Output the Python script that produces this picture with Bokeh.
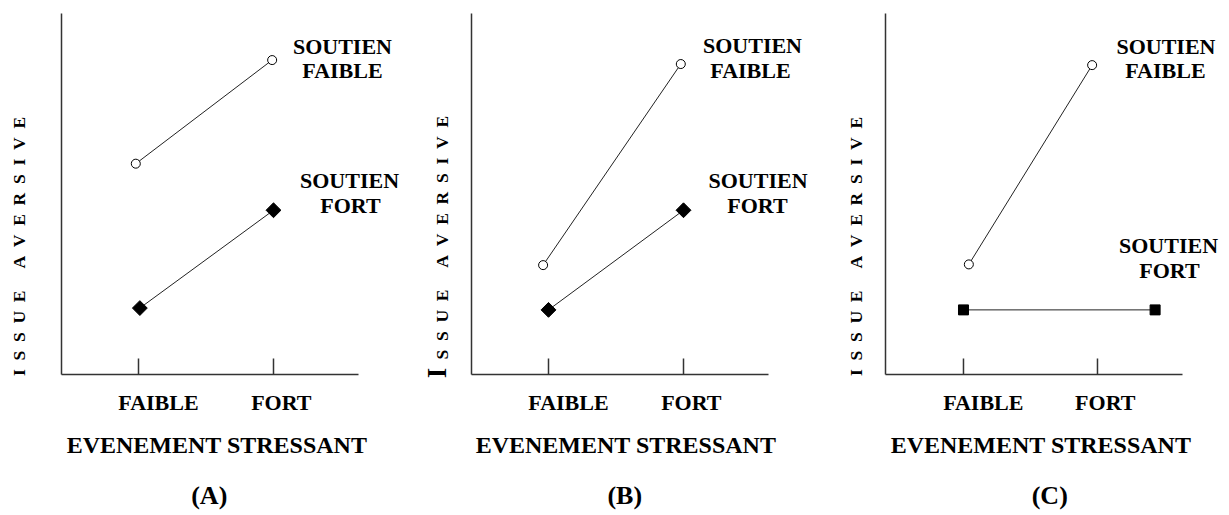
import numpy as np
from bokeh.plotting import figure
from bokeh.layouts import row
from bokeh.models import FixedTicker, Label, Range1d, LinearAxis
from bokeh.embed import file_html
from bokeh.resources import INLINE

FONT = "Liberation Serif"

# ---------------- data ----------------
x_categories = ["FAIBLE", "FORT"]
x_positions = [1, 2]
x_label_shift = [0.148, 0.058]
panel_names = ["(A)", "(B)", "(C)"]
x_title = "EVENEMENT STRESSANT"
series_labels = [["SOUTIEN", "FAIBLE"], ["SOUTIEN", "FORT"]]

# (A)
a_faible_x = [0.98, 1.99]
a_faible_y = [58.4, 87.1]
a_fort_x = [1.01, 2.0]
a_fort_y = [18.4, 45.5]
# (B)
b_faible_x = [0.96, 1.98]
b_faible_y = [30.3, 86.0]
b_fort_x = [1.0, 2.0]
b_fort_y = [17.9, 45.5]
# (C)
c_faible_x = [1.04, 1.96]
c_faible_y = [30.5, 85.7]
c_fort_x = [1.0, 2.43]
c_fort_y = [17.9, 17.9]

NB = "\u00a0"


def spaced(word):
    return (NB * 2).join(list(word))


y_title = spaced("ISSUE") + NB * 5 + spaced("AVERSIVE") + NB * 24
y_title_b = NB * 2 + y_title[1:]


def bare_axis(label, size, standoff):
    return LinearAxis(ticker=FixedTicker(ticks=[]),
                      axis_line_color=None,
                      major_tick_in=0, major_tick_out=0,
                      minor_tick_in=0, minor_tick_out=0,
                      axis_label=label,
                      axis_label_text_font=FONT,
                      axis_label_text_font_style="bold",
                      axis_label_text_font_size=size,
                      axis_label_text_color="black",
                      axis_label_standoff=standoff)


def make_panel(name, fx, fy, gx, gy, fort_marker, fort_angle, fort_size,
               width, border_l, border_r, border_t, border_b,
               x0, x1, xbound, y_standoff, ylab, label_pos,
               title_pad, xpad, big_i=False):
    p = figure(width=width, height=515,
               x_range=Range1d(x0, x1), y_range=Range1d(0, 100),
               output_backend="svg", toolbar_location=None,
               min_border_left=border_l, min_border_right=border_r,
               min_border_top=border_t, min_border_bottom=border_b)
    p.outline_line_color = None
    p.grid.visible = False
    p.background_fill_color = "white"
    p.border_fill_color = "white"

    # x axis
    xa = p.xaxis[0]
    lab_ticks = [x + s for x, s in zip(x_positions, x_label_shift)]
    xa.ticker = FixedTicker(ticks=lab_ticks)
    xa.major_label_overrides = {t: c for t, c in zip(lab_ticks, x_categories)}
    xa.bounds = (x0, xbound)
    xa.major_tick_in = 0
    xa.major_tick_out = 0
    xa.minor_tick_in = 0
    xa.minor_tick_out = 0
    xa.axis_line_color = "#333333"
    xa.axis_line_width = 1.5
    xa.major_label_text_font = FONT
    xa.major_label_text_font_style = "bold"
    xa.major_label_text_font_size = "22px"
    xa.major_label_text_color = "black"
    xa.major_label_standoff = 15
    xa.axis_label = x_title + NB * xpad
    xa.axis_label_text_font = FONT
    xa.axis_label_text_font_style = "bold"
    xa.axis_label_text_font_size = "24px"
    xa.axis_label_text_color = "black"
    xa.axis_label_standoff = 14

    # panel name, set under the axis title
    p.add_layout(bare_axis(name + NB * title_pad, "26px", 20), "below")

    # y axis
    ya = p.yaxis[0]
    ya.ticker = FixedTicker(ticks=[])
    ya.major_tick_in = 0
    ya.major_tick_out = 0
    ya.minor_tick_in = 0
    ya.minor_tick_out = 0
    ya.axis_line_color = "#333333"
    ya.axis_line_width = 1.5
    ya.axis_label = ylab
    ya.axis_label_text_font = FONT
    ya.axis_label_text_font_style = "bold"
    ya.axis_label_text_font_size = "17.5px"
    ya.axis_label_text_color = "black"
    ya.axis_label_standoff = y_standoff

    if big_i:
        p.add_layout(bare_axis("I" + NB * 53, "27px", -23), "left")

    # inward tick marks at the categories
    p.segment(x0=x_positions, y0=[0, 0], x1=x_positions, y1=[4.4, 4.4],
              line_color="#333333", line_width=1.5)

    # series
    p.line(fx, fy, line_color="#222222", line_width=1)
    p.scatter(fx, fy, marker="circle", size=9, fill_color="white",
              line_color="black", line_width=1)
    p.line(gx, gy, line_color="#222222", line_width=1)
    p.scatter(gx, gy, marker=fort_marker, size=fort_size, angle=fort_angle,
              fill_color="black", line_color="black")

    # series labels
    texts = series_labels[0] + series_labels[1]
    for t, (lx, ly) in zip(texts, label_pos):
        p.add_layout(Label(x=lx, y=ly, text=t, text_font=FONT,
                           text_font_style="bold", text_font_size="22px",
                           text_color="black", text_align="center",
                           text_baseline="middle"))
    return p


pa = make_panel(panel_names[0], a_faible_x, a_faible_y, a_fort_x, a_fort_y,
                "square", np.pi / 4, 10.5,
                410, 61, 8, 11, 139, 0.4296, 2.9556, 2.63, 33, y_title,
                [(2.511, 90.96), (2.511, 84.25), (2.563, 53.7), (2.570, 46.85)],
                7, 5)
pb = make_panel(panel_names[1], b_faible_x, b_faible_y, b_fort_x, b_fort_y,
                "square", np.pi / 4, 10.5,
                410, 61, 10, 13, 139, 0.4296, 2.9407, 2.63, 20, y_title_b,
                [(2.511, 91.05), (2.496, 84.3), (2.552, 53.7), (2.548, 46.8)],
                5, 5, big_i=True)
pc = make_panel(panel_names[2], c_faible_x, c_faible_y, c_fort_x, c_fort_y,
                "square", 0, 10,
                409, 65, 9, 10, 141, 0.418, 2.918, 2.634, 20, y_title,
                [(2.511, 90.9), (2.507, 84.2), (2.530, 35.7), (2.537, 28.8)],
                1, 4)

layout = row(pa, pb, pc)
open("out.html", "w").write(file_html(layout, INLINE))
